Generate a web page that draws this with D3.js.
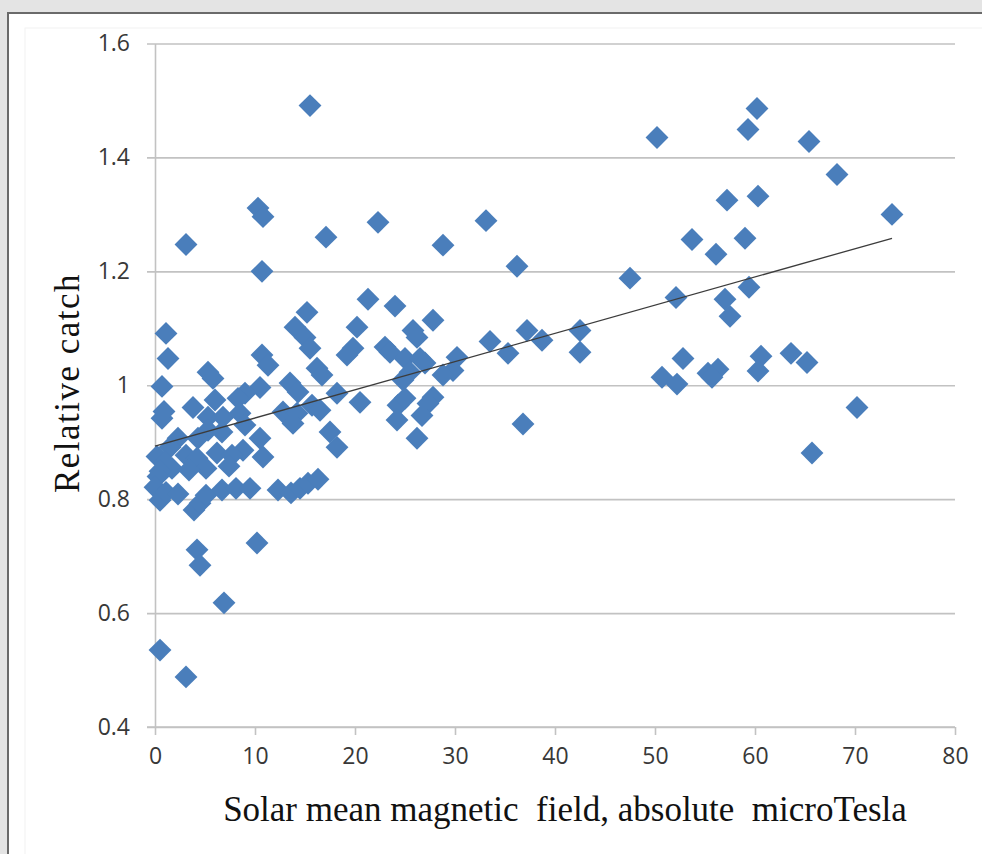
<!DOCTYPE html>
<html>
<head>
<meta charset="utf-8">
<script src="https://cdn.jsdelivr.net/npm/d3@7"></script>
<style>
  body { margin: 0; background: #e4e4e4; overflow: hidden; }
  #chart { width: 982px; height: 854px; }
</style>
</head>
<body>
<div id="chart"></div>
<script>
// Datos
const campo = [
  15.5, 3.1, 10.3, 10.8, 10.7, 17.1, 22.3, 28.8, 33.1, 36.2,
  21.3, 24.0, 15.2, 20.2, 27.8, 14.0, 15.0, 15.5, 25.8, 26.2,
  19.8, 19.2, 23.0, 23.5, 25.0, 26.5, 27.0, 25.5, 30.2, 29.8,
  28.8, 24.8, 33.5, 37.2, 38.7, 42.5, 42.5, 35.3, 36.8, 20.5,
  24.3, 25.0, 27.8, 27.3, 24.2, 26.7, 26.2, 18.2, 17.5, 18.2,
  16.2, 16.7, 10.7, 11.3, 13.5, 14.3, 10.5, 9.0, 12.8, 14.2,
  15.7, 16.5, 13.8, 10.5, 10.8, 8.8, 1.1, 1.3, 0.7, 0.7,
  0.9, 5.3, 5.8, 3.8, 6.0, 8.3, 5.3, 6.8, 8.5, 5.3,
  6.7, 9.0, 4.3, 2.3, 1.5, 0.2, 1.0, 1.7, 0.5, 3.1,
  4.2, 6.2, 7.7, 7.4, 5.1, 3.4, 0.3, 0.0, 0.5, 1.1,
  2.3, 3.9, 4.5, 5.1, 6.7, 8.1, 9.5, 12.3, 13.6, 14.5,
  15.3, 16.3, 4.2, 4.5, 10.2, 6.9, 0.5, 3.1,
  50.2, 60.2, 59.3, 65.4, 68.2, 73.7, 57.2, 60.3, 53.7, 59.0,
  56.1, 47.5, 52.1, 59.4, 57.0, 57.5, 52.8, 50.7, 52.2, 60.6,
  60.3, 63.6, 65.2, 55.3, 56.3, 55.7, 70.2, 65.7
];
const captura = [
  1.491, 1.247, 1.311, 1.296, 1.200, 1.260, 1.286, 1.246, 1.289, 1.209,
  1.151, 1.139, 1.128, 1.102, 1.114, 1.102, 1.084, 1.065, 1.096, 1.084,
  1.065, 1.053, 1.067, 1.058, 1.047, 1.047, 1.039, 1.023, 1.049, 1.026,
  1.018, 1.009, 1.077, 1.096, 1.079, 1.096, 1.058, 1.056, 0.932, 0.970,
  0.965, 0.977, 0.979, 0.968, 0.939, 0.947, 0.907, 0.891, 0.918, 0.986,
  1.030, 1.018, 1.053, 1.035, 1.004, 0.988, 0.996, 0.986, 0.953, 0.951,
  0.965, 0.956, 0.933, 0.907, 0.874, 0.886, 1.091, 1.047, 0.998, 0.942,
  0.954, 1.023, 1.012, 0.961, 0.974, 0.977, 0.944, 0.944, 0.951, 0.921,
  0.918, 0.930, 0.907, 0.907, 0.891, 0.875, 0.865, 0.854, 0.849, 0.877,
  0.872, 0.881, 0.877, 0.858, 0.854, 0.851, 0.840, 0.821, 0.798, 0.812,
  0.809, 0.781, 0.793, 0.807, 0.816, 0.819, 0.819, 0.816, 0.811, 0.819,
  0.828, 0.835, 0.711, 0.684, 0.723, 0.618, 0.535, 0.488,
  1.435, 1.486, 1.449, 1.428, 1.370, 1.300, 1.325, 1.332, 1.256, 1.258,
  1.230, 1.188, 1.154, 1.172, 1.151, 1.121, 1.047, 1.014, 1.002, 1.051,
  1.025, 1.056, 1.040, 1.021, 1.028, 1.014, 0.961, 0.881
];
// Linea de tendencia (extremos)
const tendenciaX = [0, 73.7];
const tendenciaY = [0.893, 1.258];

const xTicks = [0, 10, 20, 30, 40, 50, 60, 70, 80];
const yTicks = [0.4, 0.6, 0.8, 1, 1.2, 1.4, 1.6];

const puntos = campo.map((x, i) => ({ x: x, y: captura[i] }));
const tendencia = tendenciaX.map((x, i) => ({ x: x, y: tendenciaY[i] }));

const width = 982, height = 854;
const plotLeft = 155, plotRight = 955, plotTop = 43.5, plotBottom = 727;

const svg = d3.select("#chart").append("svg")
  .attr("width", width)
  .attr("height", height);

// marco blanco
svg.append("rect")
  .attr("x", 8).attr("y", 13)
  .attr("width", 1000).attr("height", 900)
  .attr("fill", "#fff")
  .attr("stroke", "#6a6a6a")
  .attr("stroke-width", 2);
svg.append("rect")
  .attr("x", 25).attr("y", 28)
  .attr("width", 1000).attr("height", 900)
  .attr("fill", "none")
  .attr("stroke", "#f2f2f2")
  .attr("stroke-width", 1);

const x = d3.scaleLinear().domain([0, 80]).range([plotLeft, plotRight]);
const y = d3.scaleLinear().domain([0.4, 1.6]).range([plotBottom, plotTop]);

// rejilla horizontal
svg.append("g")
  .attr("transform", "translate(" + plotLeft + ",0)")
  .call(d3.axisLeft(y).tickValues(yTicks).tickSize(-(plotRight - plotLeft)).tickFormat(""))
  .call(g => g.select(".domain").remove())
  .call(g => g.selectAll("line").attr("x1", -8).attr("x2", plotRight - plotLeft)
    .attr("stroke", "#c2c2c2").attr("stroke-width", 1.6));

// eje x
const ejeX = svg.append("g")
  .attr("transform", "translate(0," + plotBottom + ")")
  .call(d3.axisBottom(x).tickValues(xTicks).tickSize(8).tickPadding(13).tickFormat(d3.format("d")));
ejeX.select(".domain").attr("stroke", "#c2c2c2").attr("stroke-width", 1.6)
  .attr("d", "M" + (plotLeft - 8) + ",0H" + plotRight);
ejeX.selectAll("line").attr("stroke", "#c2c2c2").attr("stroke-width", 1.6);
ejeX.selectAll("text")
  .attr("font-family", "'Open Sans', sans-serif")
  .attr("font-size", 23)
  .attr("fill", "#383838");

// eje y
const ejeY = svg.append("g")
  .attr("transform", "translate(" + plotLeft + ",0)")
  .call(d3.axisLeft(y).tickValues(yTicks).tickSize(0).tickPadding(25).tickFormat(d => d === 1 ? "1" : d3.format(".1f")(d)));
ejeY.select(".domain").attr("stroke", "#c2c2c2").attr("stroke-width", 1.6);
ejeY.selectAll("text")
  .attr("font-family", "'Open Sans', sans-serif")
  .attr("font-size", 23)
  .attr("fill", "#383838");

// puntos
svg.append("g").selectAll("path")
  .data(puntos)
  .enter()
  .append("path")
  .attr("d", d3.symbol(d3.symbolSquare, 262))
  .attr("transform", d => "translate(" + x(d.x) + "," + y(d.y) + ") rotate(45)")
  .attr("fill", "#4a7ebb");

// tendencia
const linea = d3.line()
  .x(d => x(d.x))
  .y(d => y(d.y));

svg.append("path")
  .datum(tendencia)
  .attr("fill", "none")
  .attr("stroke", "#3c3c3c")
  .attr("stroke-width", 1.3)
  .attr("d", linea);

// titulos
svg.append("text")
  .attr("x", 565).attr("y", 821)
  .attr("text-anchor", "middle")
  .attr("font-family", "'Liberation Serif', 'Times New Roman', serif")
  .attr("font-size", 35)
  .attr("fill", "#111")
  .style("white-space", "pre")
  .text("Solar mean magnetic  field, absolute  microTesla");

svg.append("text")
  .attr("transform", "translate(79,383) rotate(-90)")
  .attr("text-anchor", "middle")
  .attr("font-family", "'Liberation Serif', 'Times New Roman', serif")
  .attr("font-size", 35)
  .attr("letter-spacing", 1.5)
  .attr("fill", "#111")
  .text("Relative catch");
</script>
</body>
</html>
